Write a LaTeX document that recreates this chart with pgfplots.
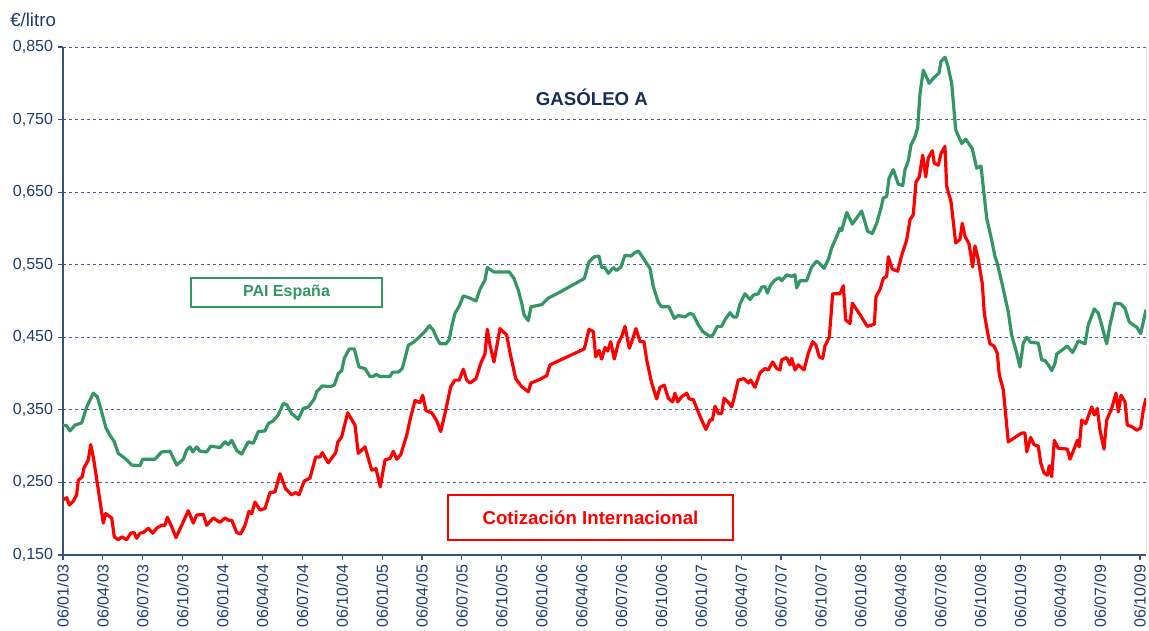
\documentclass[border=0pt]{standalone}
\usepackage{pgfplots}
\pgfplotsset{compat=1.18}
\usepackage{fontspec}
\setmainfont{Liberation Sans}
\definecolor{axblue}{RGB}{54,84,124}
\definecolor{gridblue}{RGB}{70,100,140}
\definecolor{paigreen}{RGB}{51,150,100}
\definecolor{txtblue}{RGB}{31,60,110}
\definecolor{titblue}{RGB}{23,45,90}
\begin{document}
\begin{tikzpicture}
\path[use as bounding box] (-47.25pt,-57pt) rectangle (814.5pt,416.25pt);
\begin{axis}[
  at={(0pt,0pt)}, anchor=south west,
  scale only axis, width=812.25pt, height=381pt,
  xmin=0, xmax=27.151, ymin=0.15, ymax=0.85,
  axis x line*=bottom, axis y line*=left,
  x axis line style={axblue, line width=1pt},
  y axis line style={axblue, line width=1.3pt},
  tick style={axblue, line width=0.8pt},
  major tick length=4pt, tick align=outside,
  ytick={0.15,0.25,0.35,0.45,0.55,0.65,0.75,0.85},
  yticklabels={{0,150},{0,250},{0,350},{0,450},{0,550},{0,650},{0,750},{0,850}},
  xtick={0,1,...,27},
  xticklabels={06/01/03,06/04/03,06/07/03,06/10/03,06/01/04,06/04/04,06/07/04,06/10/04,06/01/05,06/04/05,06/07/05,06/10/05,06/01/06,06/04/06,06/07/06,06/10/06,06/01/07,06/04/07,06/07/07,06/10/07,06/01/08,06/04/08,06/07/08,06/10/08,06/01/09,06/04/09,06/07/09,06/10/09},
  xticklabel style={rotate=90, anchor=east, font=\fontsize{12}{13}\selectfont, text=txtblue},
  yticklabel style={font=\fontsize{12}{13}\selectfont, text=txtblue},
  ymajorgrids,
  grid style={gridblue, dash pattern=on 2.25pt off 2.25pt, line width=0.6pt},
]
\draw[axblue, line width=0.75pt] (rel axis cs:1,0) -- (rel axis cs:1,1);
\addplot[paigreen, line width=2.4pt, line join=round] coordinates {
(0,0.329)(0.093,0.328)(0.175,0.321)(0.301,0.329)(0.469,0.332)(0.594,0.354)(0.760,0.373)(0.860,0.368)(0.970,0.347)(1.078,0.325)(1.178,0.315)(1.286,0.306)(1.386,0.290)(1.512,0.285)(1.597,0.281)(1.722,0.274)(1.930,0.273)(1.998,0.282)(2.306,0.282)(2.474,0.292)(2.682,0.293)(2.850,0.274)(3.016,0.282)(3.101,0.295)(3.184,0.299)(3.252,0.292)(3.352,0.299)(3.435,0.293)(3.603,0.292)(3.703,0.300)(3.936,0.298)(4.061,0.306)(4.144,0.302)(4.229,0.308)(4.355,0.294)(4.480,0.289)(4.645,0.306)(4.771,0.304)(4.896,0.320)(5.064,0.321)(5.147,0.331)(5.272,0.335)(5.397,0.343)(5.523,0.359)(5.608,0.357)(5.733,0.345)(5.899,0.337)(6.024,0.352)(6.150,0.354)(6.300,0.365)(6.360,0.375)(6.501,0.383)(6.694,0.382)(6.801,0.384)(6.902,0.400)(6.987,0.404)(7.052,0.421)(7.177,0.434)(7.303,0.434)(7.421,0.409)(7.571,0.407)(7.696,0.396)(7.779,0.396)(7.847,0.399)(7.947,0.396)(8.198,0.396)(8.265,0.402)(8.406,0.402)(8.506,0.407)(8.574,0.421)(8.657,0.439)(8.782,0.443)(8.907,0.449)(9.075,0.458)(9.183,0.466)(9.283,0.460)(9.369,0.449)(9.451,0.441)(9.602,0.441)(9.684,0.447)(9.745,0.465)(9.827,0.483)(9.935,0.493)(10.035,0.507)(10.203,0.504)(10.354,0.500)(10.454,0.516)(10.579,0.529)(10.637,0.546)(10.805,0.540)(11.188,0.540)(11.306,0.531)(11.414,0.515)(11.499,0.497)(11.557,0.481)(11.665,0.473)(11.733,0.492)(12.001,0.495)(12.166,0.504)(12.417,0.511)(13.069,0.531)(13.187,0.554)(13.320,0.561)(13.437,0.562)(13.505,0.546)(13.588,0.546)(13.671,0.538)(13.796,0.546)(13.881,0.542)(13.989,0.547)(14.089,0.563)(14.240,0.562)(14.322,0.566)(14.423,0.569)(14.548,0.559)(14.716,0.545)(14.799,0.520)(14.924,0.498)(15.009,0.492)(15.192,0.492)(15.325,0.476)(15.425,0.480)(15.593,0.478)(15.719,0.483)(15.802,0.481)(15.927,0.467)(16.037,0.458)(16.220,0.451)(16.303,0.454)(16.403,0.465)(16.513,0.465)(16.596,0.474)(16.721,0.484)(16.804,0.478)(16.889,0.478)(16.972,0.496)(17.097,0.510)(17.223,0.502)(17.305,0.508)(17.431,0.510)(17.516,0.519)(17.599,0.520)(17.657,0.511)(17.742,0.522)(17.849,0.529)(17.957,0.532)(18.017,0.528)(18.143,0.536)(18.268,0.534)(18.351,0.536)(18.393,0.518)(18.476,0.528)(18.644,0.528)(18.770,0.547)(18.895,0.555)(18.960,0.552)(19.078,0.545)(19.186,0.557)(19.271,0.573)(19.396,0.589)(19.479,0.600)(19.522,0.597)(19.647,0.622)(19.788,0.606)(20.023,0.624)(20.173,0.596)(20.289,0.593)(20.399,0.607)(20.507,0.628)(20.565,0.642)(20.650,0.644)(20.708,0.669)(20.815,0.681)(20.941,0.661)(21.051,0.659)(21.109,0.681)(21.191,0.693)(21.259,0.715)(21.359,0.726)(21.427,0.739)(21.485,0.786)(21.568,0.818)(21.718,0.800)(21.818,0.807)(21.961,0.814)(22.011,0.830)(22.111,0.836)(22.179,0.825)(22.279,0.800)(22.380,0.736)(22.530,0.717)(22.630,0.723)(22.796,0.710)(22.906,0.683)(23.014,0.686)(23.157,0.614)(23.282,0.584)(23.365,0.561)(23.423,0.552)(23.558,0.520)(23.698,0.485)(23.783,0.453)(23.891,0.432)(23.992,0.409)(24.074,0.442)(24.160,0.450)(24.260,0.443)(24.451,0.442)(24.535,0.419)(24.618,0.418)(24.701,0.412)(24.786,0.404)(24.869,0.414)(24.912,0.427)(25.037,0.432)(25.177,0.438)(25.313,0.429)(25.453,0.445)(25.621,0.441)(25.704,0.467)(25.854,0.489)(25.955,0.483)(26.040,0.467)(26.165,0.441)(26.248,0.467)(26.373,0.497)(26.516,0.496)(26.624,0.490)(26.732,0.471)(26.832,0.467)(26.917,0.464)(27.018,0.455)(27.151,0.488)
};
\addplot[red, line width=2.4pt, line join=round] coordinates {
(0,0.226)(0.093,0.229)(0.158,0.219)(0.258,0.224)(0.343,0.233)(0.384,0.253)(0.484,0.258)(0.526,0.270)(0.634,0.281)(0.694,0.302)(0.760,0.285)(0.885,0.240)(1.010,0.194)(1.070,0.207)(1.221,0.201)(1.286,0.175)(1.386,0.171)(1.472,0.175)(1.597,0.171)(1.697,0.180)(1.780,0.181)(1.848,0.173)(1.930,0.180)(2.013,0.181)(2.138,0.187)(2.249,0.180)(2.349,0.187)(2.474,0.191)(2.557,0.191)(2.615,0.202)(2.725,0.189)(2.833,0.174)(2.976,0.191)(3.141,0.211)(3.267,0.194)(3.352,0.205)(3.517,0.206)(3.603,0.191)(3.768,0.201)(3.936,0.195)(4.061,0.201)(4.144,0.198)(4.229,0.198)(4.355,0.181)(4.455,0.179)(4.563,0.191)(4.663,0.210)(4.731,0.207)(4.813,0.223)(4.939,0.212)(5.064,0.214)(5.189,0.236)(5.315,0.237)(5.440,0.262)(5.583,0.241)(5.733,0.233)(5.834,0.236)(5.916,0.233)(6.049,0.252)(6.192,0.256)(6.335,0.285)(6.443,0.285)(6.501,0.291)(6.651,0.277)(6.837,0.291)(6.887,0.305)(6.987,0.313)(7.137,0.346)(7.320,0.329)(7.403,0.290)(7.571,0.299)(7.739,0.267)(7.847,0.269)(7.955,0.244)(8.072,0.281)(8.198,0.283)(8.280,0.293)(8.366,0.282)(8.466,0.288)(8.617,0.315)(8.699,0.336)(8.825,0.363)(8.950,0.360)(9.018,0.370)(9.100,0.349)(9.243,0.346)(9.369,0.335)(9.469,0.320)(9.577,0.345)(9.720,0.382)(9.827,0.391)(9.935,0.391)(10.035,0.406)(10.121,0.391)(10.203,0.387)(10.354,0.393)(10.472,0.414)(10.579,0.427)(10.637,0.461)(10.705,0.439)(10.805,0.416)(10.955,0.462)(11.123,0.453)(11.206,0.429)(11.349,0.393)(11.499,0.382)(11.665,0.375)(11.733,0.387)(11.916,0.391)(12.126,0.397)(12.209,0.412)(13.069,0.434)(13.187,0.461)(13.295,0.458)(13.355,0.423)(13.437,0.432)(13.505,0.420)(13.588,0.436)(13.655,0.431)(13.730,0.444)(13.821,0.420)(13.921,0.442)(14.006,0.451)(14.089,0.465)(14.197,0.435)(14.272,0.446)(14.365,0.462)(14.465,0.444)(14.565,0.444)(14.633,0.419)(14.758,0.387)(14.884,0.365)(14.966,0.381)(15.074,0.384)(15.175,0.366)(15.285,0.361)(15.342,0.373)(15.410,0.361)(15.510,0.368)(15.636,0.373)(15.701,0.365)(15.802,0.364)(15.927,0.347)(16.011,0.336)(16.119,0.323)(16.220,0.336)(16.278,0.336)(16.345,0.355)(16.428,0.345)(16.513,0.345)(16.571,0.366)(16.704,0.359)(16.764,0.354)(16.822,0.366)(16.929,0.391)(17.072,0.393)(17.180,0.387)(17.240,0.391)(17.348,0.381)(17.473,0.401)(17.599,0.407)(17.682,0.405)(17.792,0.416)(17.892,0.407)(17.975,0.405)(18.017,0.419)(18.143,0.422)(18.226,0.412)(18.268,0.421)(18.351,0.405)(18.434,0.412)(18.577,0.405)(18.685,0.428)(18.795,0.444)(18.878,0.439)(18.960,0.423)(19.045,0.421)(19.103,0.438)(19.211,0.450)(19.296,0.510)(19.411,0.510)(19.479,0.510)(19.562,0.521)(19.622,0.474)(19.730,0.469)(19.788,0.497)(20.006,0.479)(20.164,0.465)(20.340,0.468)(20.382,0.506)(20.482,0.516)(20.565,0.531)(20.650,0.534)(20.690,0.561)(20.790,0.544)(20.926,0.541)(21.026,0.563)(21.151,0.584)(21.234,0.612)(21.317,0.619)(21.385,0.664)(21.467,0.671)(21.553,0.701)(21.628,0.671)(21.693,0.697)(21.793,0.707)(21.843,0.690)(21.943,0.687)(22.011,0.703)(22.111,0.713)(22.154,0.658)(22.262,0.637)(22.380,0.580)(22.488,0.585)(22.545,0.607)(22.613,0.589)(22.713,0.579)(22.806,0.547)(22.864,0.576)(22.946,0.557)(23.047,0.524)(23.097,0.483)(23.182,0.456)(23.239,0.441)(23.340,0.438)(23.423,0.428)(23.473,0.398)(23.573,0.378)(23.698,0.306)(24.034,0.318)(24.117,0.318)(24.160,0.292)(24.260,0.312)(24.343,0.302)(24.451,0.300)(24.511,0.277)(24.594,0.263)(24.677,0.260)(24.727,0.273)(24.786,0.258)(24.852,0.308)(24.952,0.297)(25.177,0.296)(25.245,0.282)(25.370,0.299)(25.428,0.308)(25.478,0.299)(25.539,0.336)(25.639,0.331)(25.790,0.354)(25.855,0.343)(25.930,0.352)(25.998,0.322)(26.098,0.296)(26.165,0.336)(26.291,0.352)(26.398,0.373)(26.456,0.347)(26.524,0.370)(26.624,0.361)(26.682,0.329)(26.792,0.327)(26.917,0.322)(27.018,0.325)(27.083,0.350)(27.151,0.366)
};
\node[font=\bfseries\fontsize{14}{16}\selectfont, text=titblue] at (axis cs:13.26,0.780) {GASÓLEO A};
\node[draw=paigreen, line width=0.8pt, minimum width=143.25pt, minimum height=21.75pt, inner sep=0pt, text=paigreen, font=\bfseries\fontsize{12}{14}\selectfont] at (axis cs:5.603,0.5117) {PAI España};
\node[draw=red, line width=0.8pt, minimum width=213.75pt, minimum height=33.75pt, inner sep=0pt, text=red, font=\bfseries\fontsize{14}{16}\selectfont] at (axis cs:13.224,0.2017) {Cotización Internacional};
\end{axis}
\node[anchor=west, inner sep=0pt, font=\fontsize{14}{16}\selectfont, text=txtblue] at (-39.75pt,401.25pt) {€/litro};
\end{tikzpicture}
\end{document}
